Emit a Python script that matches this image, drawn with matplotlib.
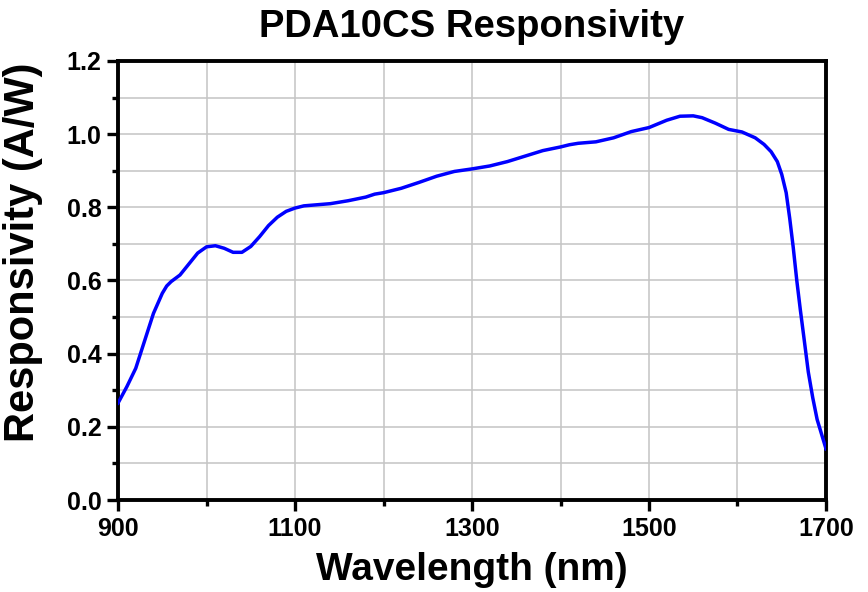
import matplotlib.pyplot as plt
from matplotlib.ticker import MultipleLocator

# values
wavelength = [900, 910, 920, 930, 940, 950, 955, 960, 970, 980, 990,
              1000, 1010, 1020, 1030, 1040, 1050, 1060, 1070, 1080, 1090,
              1100, 1110, 1120, 1140, 1160, 1180, 1190, 1200, 1220, 1240,
              1260, 1280, 1300, 1320, 1340, 1360, 1380, 1400, 1410, 1420,
              1440, 1460, 1480, 1500, 1520, 1535, 1550, 1560, 1575, 1590,
              1605, 1620, 1630, 1638, 1645, 1650, 1655, 1659, 1663, 1667,
              1671, 1675, 1680, 1685, 1690, 1695, 1700]
responsivity = [0.265, 0.31, 0.36, 0.435, 0.51, 0.565, 0.585, 0.597, 0.615, 0.645, 0.675,
                0.692, 0.695, 0.688, 0.677, 0.677, 0.693, 0.72, 0.75, 0.773, 0.789,
                0.798, 0.804, 0.806, 0.81, 0.818, 0.828, 0.836, 0.84, 0.852, 0.868,
                0.885, 0.898, 0.905, 0.913, 0.925, 0.94, 0.955, 0.965, 0.971, 0.975,
                0.979, 0.99, 1.007, 1.018, 1.038, 1.049, 1.05, 1.045, 1.03, 1.013,
                1.006, 0.99, 0.972, 0.952, 0.925, 0.89, 0.84, 0.77, 0.69, 0.60,
                0.52, 0.445, 0.35, 0.28, 0.22, 0.18, 0.14]

plt.rcParams['font.family'] = ['Liberation Sans', 'DejaVu Sans']
plt.rcParams['font.weight'] = 'bold'

fig = plt.figure(figsize=(8.68, 5.92), dpi=100)
ax = fig.add_axes([0.136, 0.1554, 0.8156, 0.7416])

ax.plot(wavelength, responsivity, color='#0000ff', lw=2.5, zorder=3,
        solid_joinstyle='round')

ax.set_xlim(900, 1700)
ax.set_ylim(0, 1.2)
ax.set_xticks(range(900, 1701, 200))
ax.set_xticks(range(1000, 1700, 200), minor=True)
ax.yaxis.set_major_locator(MultipleLocator(0.2))
ax.yaxis.set_minor_locator(MultipleLocator(0.1))
ax.yaxis.set_major_formatter(lambda v, p: f"{v:.1f}")

ax.grid(True, which='both', color='#c4c4c4', lw=1.1, zorder=0)

for s in ax.spines.values():
    s.set_linewidth(2.8)
ax.tick_params(which='major', direction='out', length=8, width=2.4, pad=4,
               labelsize=18)
ax.tick_params(which='minor', direction='out', length=4.5, width=2.4)

ax.set_title("PDA10CS Responsivity", fontsize=27.5, fontweight='bold', pad=17)
ax.set_xlabel("Wavelength (nm)", fontsize=28, fontweight='bold', labelpad=8)
ax.set_ylabel("Responsivity (A/W)", fontsize=30, fontweight='bold')
# label sits a bit above the axis middle in the reference
ax.yaxis.set_label_coords(-0.106, 0.565)

fig.savefig("out.png", dpi=100)
